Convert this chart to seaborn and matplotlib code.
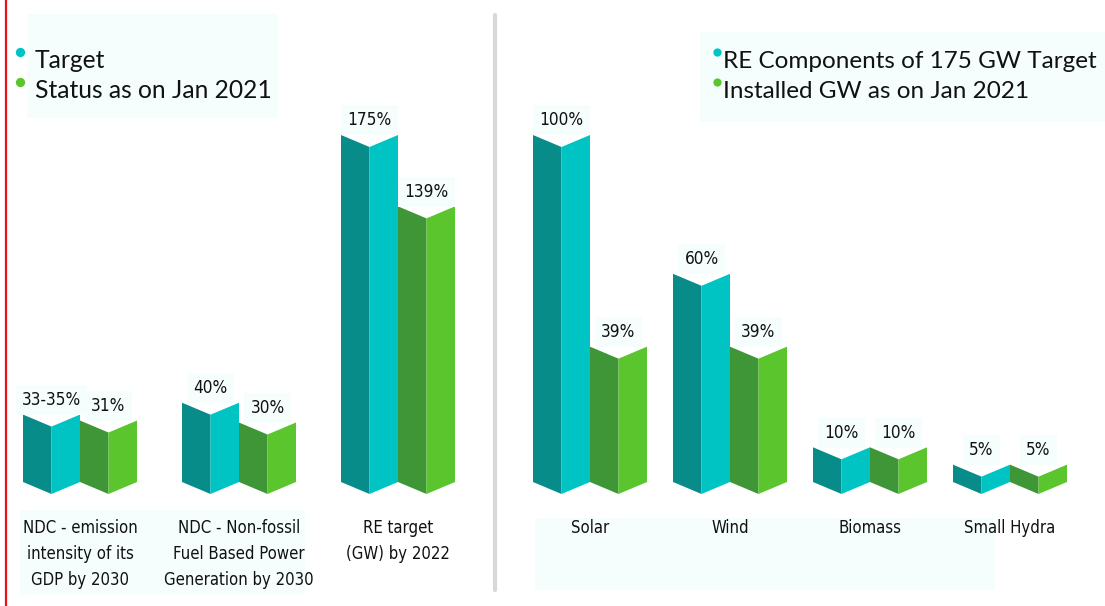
import matplotlib
matplotlib.use("Agg")
import matplotlib.pyplot as plt
from matplotlib import font_manager
import seaborn as sns
import pandas as pd

# ---- data -------------------------------------------------------------
left_categories = ["NDC - emission\nintensity of its\nGDP by 2030",
                   "NDC - Non-fossil\nFuel Based Power\nGeneration by 2030",
                   "RE target\n(GW) by 2022"]
left_target = [34, 40, 175]
left_status = [31, 30, 139]
left_target_labels = ["33-35%", "40%", "175%"]
left_status_labels = ["31%", "30%", "139%"]
left_series = ["Target", "Status as on Jan 2021"]

right_categories = ["Solar", "Wind", "Biomass", "Small Hydra"]
right_target = [100, 60, 10, 5]
right_status = [39, 39, 10, 5]
right_target_labels = ["100%", "60%", "10%", "5%"]
right_status_labels = ["39%", "39%", "10%", "5%"]
right_series = ["RE Components of 175 GW Target", "Installed GW as on Jan 2021"]

# ---- style ------------------------------------------------------------
sns.set_style("white")
names = {f.name for f in font_manager.fontManager.ttflist}
narrow = "Liberation Sans Narrow" if "Liberation Sans Narrow" in names else "DejaVu Sans"
plt.rcParams["font.family"] = ["Lato", "DejaVu Sans"]

TEAL = ("#078c8a", "#00c3c3")
GREEN = ("#3f9636", "#5bc52d")
BOX = "#f5fdfd"
INK = "#111111"

W, H = 1105, 606
fig = plt.figure(figsize=(W / 100, H / 100), dpi=100)

BASE_PX = 124          # baseline height above the figure bottom
NOTCH_PX = 12          # fold depth of the 3D bars
BAR_TOP_PX = 347       # pixel height of the tallest bar in each panel
LABEL_TOP_PX = 519     # top of the category labels, from the figure top


def panel(x0_px, x1_px, cats, target, status, tlabels, slabels, series,
          first_center_px, spacing_px, bar_px, vmax):
    ax = fig.add_axes([x0_px / W, 0, (x1_px - x0_px) / W, 1])
    df = pd.DataFrame({
        "category": cats * 2,
        "value": target + status,
        "series": [series[0]] * len(cats) + [series[1]] * len(cats),
    })
    sns.barplot(data=df, x="category", y="value", hue="series",
                order=cats, hue_order=series,
                palette=[TEAL[1], GREEN[1]], width=2 * bar_px / spacing_px,
                legend=False, ax=ax, errorbar=None)
    scale = BAR_TOP_PX / vmax          # pixels per data unit
    ax.set_ylim(-BASE_PX / scale, (H - BASE_PX) / scale)
    ax.set_xlim(-(first_center_px - x0_px) / spacing_px,
                (x1_px - first_center_px) / spacing_px)
    ax.axis("off")

    notch = NOTCH_PX / scale
    labels = tlabels + slabels
    n = len(cats)
    for i, p in enumerate(ax.patches[: 2 * n]):
        p.set_visible(False)
        x0, w, h = p.get_x(), p.get_width(), p.get_height()
        xc, x1 = x0 + w / 2, x0 + w
        dark, light = TEAL if i < n else GREEN
        ax.fill([x0, xc, xc, x0], [0, -notch, h - notch, h],
                color=dark, lw=0, zorder=3)
        ax.fill([xc, x1, x1, xc], [-notch, 0, h, h - notch],
                color=light, lw=0, zorder=3)
        ax.annotate(labels[i], (xc, h), xytext=(0, 4),
                    textcoords="offset points", ha="center", va="bottom",
                    fontsize=12.3, family=[narrow, "DejaVu Sans"],
                    fontstretch="condensed", color=INK, zorder=4,
                    bbox=dict(boxstyle="square,pad=0.35", fc=BOX, ec="none"))
    drop_pt = (LABEL_TOP_PX - (H - BASE_PX)) * 0.72   # pixels -> points
    for j, c in enumerate(cats):
        ax.annotate(c, (j, 0), xytext=(0, -drop_pt),
                    textcoords="offset points", ha="center", va="top",
                    fontsize=12, linespacing=1.58,
                    family=[narrow, "DejaVu Sans"], fontstretch="condensed",
                    color=INK, zorder=4)
    return ax


panel(0, 494, left_categories, left_target, left_status,
      left_target_labels, left_status_labels, left_series,
      first_center_px=80, spacing_px=159, bar_px=57, vmax=175)
panel(494, W, right_categories, right_target, right_status,
      right_target_labels, right_status_labels, right_series,
      first_center_px=590, spacing_px=140, bar_px=57, vmax=100)

# ---- background panels behind legends and labels ----------------------
ov = fig.add_axes([0, 0, 1, 1], zorder=-1)
ov.set_xlim(0, W)
ov.set_ylim(H, 0)
ov.axis("off")
ov.add_patch(plt.Rectangle((27, 14), 251, 104, fc=BOX, ec="none"))
ov.add_patch(plt.Rectangle((700, 32), 405, 90, fc=BOX, ec="none"))
ov.add_patch(plt.Rectangle((20, 510), 285, 85, fc=BOX, ec="none"))
ov.add_patch(plt.Rectangle((535, 518), 460, 72, fc=BOX, ec="none"))

# ---- frame line, divider and legends ----------------------------------
top = fig.add_axes([0, 0, 1, 1], zorder=5)
top.set_xlim(0, W)
top.set_ylim(H, 0)
top.axis("off")
top.plot([6, 6], [0, H], color="#e8101a", lw=1.6)
top.plot([495, 495], [15, 590], color="#d8d8d8", lw=3)

for (x, y, col, txt) in [(20, 52, TEAL[1], left_series[0]),
                          (20, 82, GREEN[1], left_series[1])]:
    top.scatter([x], [y], s=45, color=col, lw=0)
    top.text(x + 15, y + 16, txt, fontsize=17.7, va="baseline", color=INK)
for (x, y, col, txt) in [(717, 52, TEAL[1], right_series[0]),
                          (717, 82, GREEN[1], right_series[1])]:
    top.scatter([x], [y], s=35, color=col, lw=0)
    top.text(x + 6, y + 16, txt, fontsize=17.5, va="baseline", color=INK)

fig.savefig("out.png", dpi=100, facecolor="white")
